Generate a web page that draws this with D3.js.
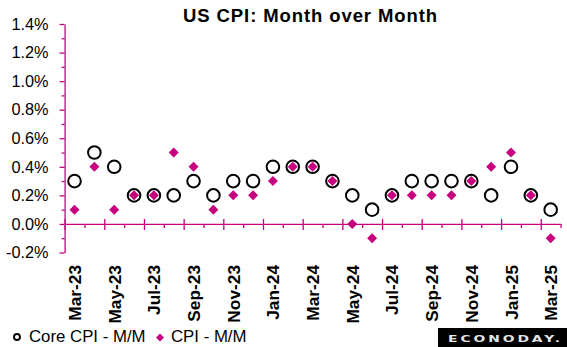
<!DOCTYPE html>
<html>
<head>
<meta charset="utf-8">
<script src="https://cdn.jsdelivr.net/npm/d3@7"></script>
<style>
  body { margin: 0; background: #fff; }
  svg { display: block; font-family: "Liberation Sans", Arial, sans-serif; }
</style>
</head>
<body>
<svg id="chart" width="567" height="347"></svg>
<script>
// months on the category axis
var months = ["Mar-23","Apr-23","May-23","Jun-23","Jul-23","Aug-23","Sep-23","Oct-23","Nov-23","Dec-23",
              "Jan-24","Feb-24","Mar-24","Apr-24","May-24","Jun-24","Jul-24","Aug-24","Sep-24","Oct-24",
              "Nov-24","Dec-24","Jan-25","Feb-25","Mar-25"];
// core CPI, month over month (%)
var core = [0.3,0.5,0.4,0.2,0.2,0.2,0.3,0.2,0.3,0.3,0.4,0.4,0.4,0.3,0.2,0.1,0.2,0.3,0.3,0.3,0.3,0.2,0.4,0.2,0.1];
// headline CPI, month over month (%)
var cpi  = [0.1,0.4,0.1,0.2,0.2,0.5,0.4,0.1,0.2,0.2,0.3,0.4,0.4,0.3,0.0,-0.1,0.2,0.2,0.2,0.2,0.3,0.4,0.5,0.2,-0.1];
var yTicks = [-0.2,0,0.2,0.4,0.6,0.8,1.0,1.2,1.4];
var yMinor = [-0.1,0.1,0.3,0.5,0.7,0.9,1.1,1.3];

var pink = "#c8007f";
var svg = d3.select("#chart");

var plotLeft = 64.6, plotRight = 560.6, plotTop = 24, plotBottom = 252.5;

var x = d3.scaleBand().domain(months).range([plotLeft, plotRight]).padding(0);
var xb = d3.scaleLinear().domain([0, months.length]).range([plotLeft, plotRight]); // category boundaries
var y = d3.scaleLinear().domain([-0.2, 1.4]).range([plotBottom, plotTop]);

// title
svg.append("text")
   .attr("x", 310.5).attr("y", 22)
   .attr("text-anchor", "middle")
   .attr("font-size", 18.5).attr("font-weight", "bold")
   .attr("letter-spacing", 0.9)
   .attr("fill", "#000")
   .text("US CPI: Month over Month");

// y axis, minor ticks first
var yMinorAxis = svg.append("g")
   .attr("transform", "translate(" + plotLeft + ",0)")
   .call(d3.axisLeft(y).tickValues(yMinor).tickSize(3).tickFormat(""));
yMinorAxis.select(".domain").remove();

var yAxis = svg.append("g")
   .attr("transform", "translate(" + plotLeft + ",0)")
   .call(d3.axisLeft(y).tickValues(yTicks).tickSizeInner(5).tickSizeOuter(0).tickPadding(11)
         .tickFormat(function(d) { return d.toFixed(1) + "%"; }));
yAxis.selectAll("text").attr("font-size", 16.3).attr("fill", "#000").attr("font-family", "Liberation Sans, Arial, sans-serif");

// x axis along zero
var xMajor = d3.range(0, months.length + 1, 2);
var xMinorVals = d3.range(1, months.length + 1, 2);

svg.append("g")
   .attr("transform", "translate(0," + y(0) + ")")
   .call(d3.axisBottom(xb).tickValues(xMinorVals).tickSizeInner(4).tickSizeOuter(0).tickFormat(""));

var xAxisMajor = svg.append("g")
   .attr("transform", "translate(0," + y(0) + ")")
   .call(d3.axisBottom(xb).tickValues(xMajor).tickSizeInner(6).tickSizeOuter(0).tickFormat(""));
xAxisMajor.selectAll(".tick line").attr("y1", -5);
xAxisMajor.select(".domain").remove();

svg.selectAll(".tick line, .domain").attr("stroke", pink).attr("stroke-width", 1.3);

// month labels, every other one
svg.append("g").selectAll("text")
   .data(months.filter(function(d, i) { return i % 2 === 0; }))
   .enter().append("text")
   .attr("transform", function(d) { return "translate(" + (x(d) + x.bandwidth() / 2 + 6.5) + ",265) rotate(-90)"; })
   .attr("text-anchor", "end")
   .attr("font-size", 17.3).attr("font-weight", "bold")
   .text(function(d) { return d; });

// core CPI circles
svg.append("g").selectAll("circle")
   .data(core)
   .enter().append("circle")
   .attr("cx", function(d, i) { return x(months[i]) + x.bandwidth() / 2; })
   .attr("cy", function(d) { return y(d); })
   .attr("r", 6.3)
   .attr("fill", "none")
   .attr("stroke", "#000")
   .attr("stroke-width", 2);

// CPI diamonds
var diamond = d3.symbol().type(d3.symbolSquare).size(50);
svg.append("g").selectAll("path")
   .data(cpi)
   .enter().append("path")
   .attr("d", diamond)
   .attr("transform", function(d, i) {
     return "translate(" + (x(months[i]) + x.bandwidth() / 2) + "," + y(d) + ") rotate(45)";
   })
   .attr("fill", pink);

// legend
var legend = svg.append("g");
legend.append("circle").attr("cx", 17).attr("cy", 337).attr("r", 3)
      .attr("fill", "none").attr("stroke", "#000").attr("stroke-width", 1.9);
legend.append("text").attr("x", 29).attr("y", 341.7).attr("font-size", 16.8).text("Core CPI - M/M");
legend.append("path").attr("d", d3.symbol().type(d3.symbolSquare).size(32))
      .attr("transform", "translate(160,337.5) rotate(45)").attr("fill", pink);
legend.append("text").attr("x", 171).attr("y", 341.7).attr("font-size", 16.8).text("CPI - M/M");

// logo
var logo = svg.append("g");
logo.append("rect").attr("x", 438).attr("y", 328).attr("width", 129).attr("height", 19).attr("fill", "#000");
logo.append("text").attr("x", 448).attr("y", 341.8)
    .attr("font-family", "DejaVu Sans, sans-serif")
    .attr("font-size", 9.5).attr("font-weight", "bold")
    .attr("fill", "#e6e6e6")
    .attr("textLength", 115).attr("lengthAdjust", "spacingAndGlyphs")
    .attr("letter-spacing", 2)
    .text("ECONODAY.");
</script>
</body>
</html>
